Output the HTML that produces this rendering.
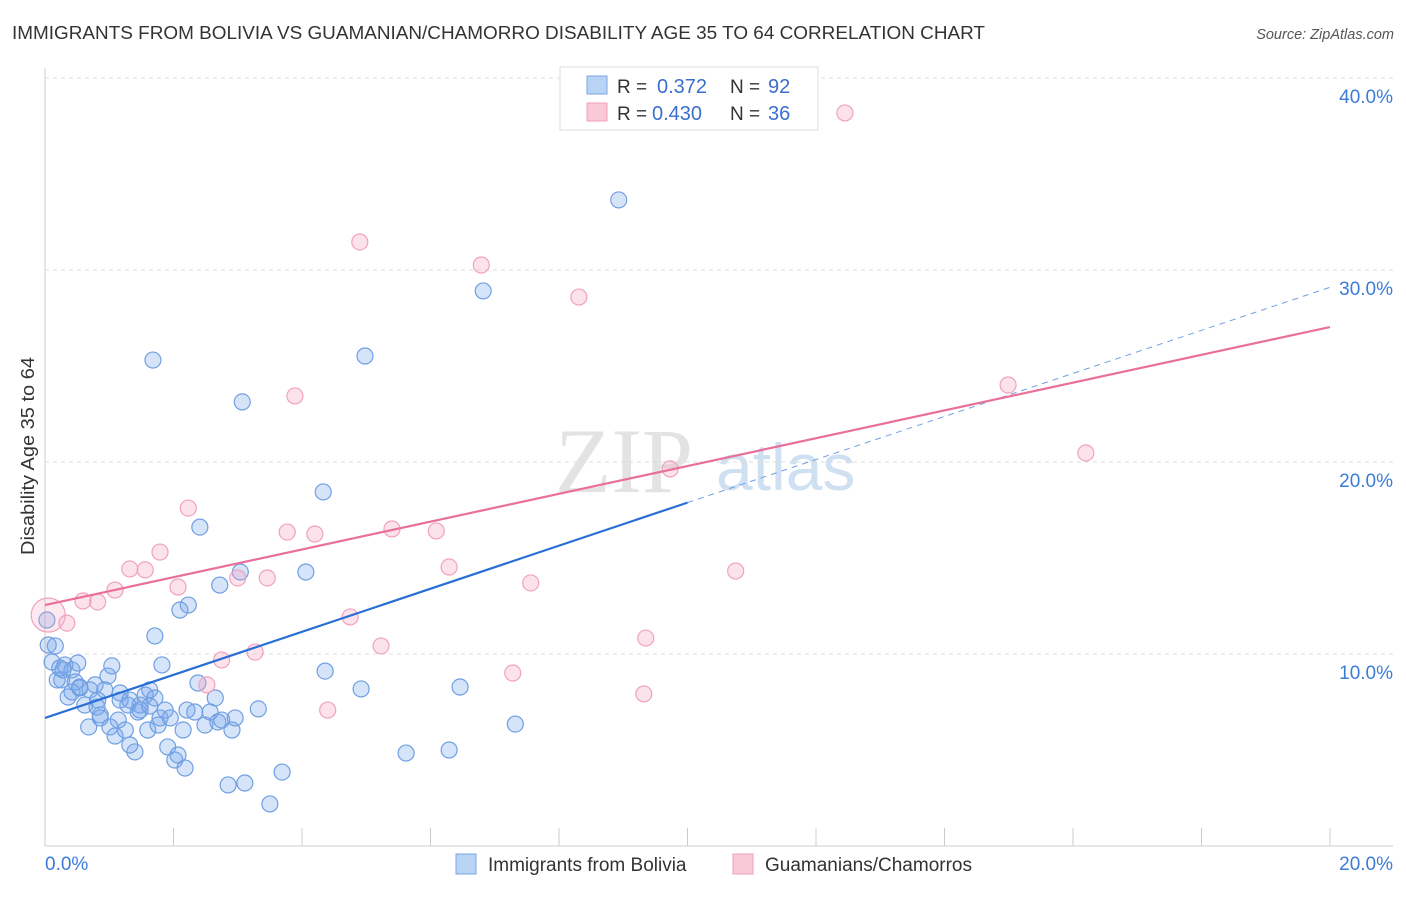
<!DOCTYPE html>
<html><head><meta charset="utf-8"><style>
body{margin:0;background:#fff;font-family:"Liberation Sans",sans-serif}
</style></head><body>
<svg id="chart" width="1406" height="892" xmlns="http://www.w3.org/2000/svg" font-family="Liberation Sans, sans-serif">
<text x="12" y="39" font-size="18" fill="#333" textLength="973" lengthAdjust="spacingAndGlyphs">IMMIGRANTS FROM BOLIVIA VS GUAMANIAN/CHAMORRO DISABILITY AGE 35 TO 64 CORRELATION CHART</text>
<text x="1394" y="39" font-size="14.5" fill="#555" text-anchor="end" font-style="italic">Source: ZipAtlas.com</text>
<g>
<text x="555" y="492" font-size="92" font-family="Liberation Serif, serif" fill="#ddd" opacity="0.8">ZIP</text>
<text x="716" y="490" font-size="66" fill="#bcd3ee" opacity="0.7">atlas</text>
</g>
<g id="grid"></g>
<g id="axes"></g>
<g id="pts"></g>
<g id="trend"></g>
<text x="34" y="456" font-size="18" fill="#333" text-anchor="middle" textLength="198" lengthAdjust="spacingAndGlyphs" transform="rotate(-90 34 456)">Disability Age 35 to 64</text>
<g>
<rect x="560" y="67" width="258" height="63" fill="#fff" stroke="#ddd"/>
<rect x="587" y="76" width="20" height="18" fill="#b9d3f4" stroke="#7aa6e4"/>
<rect x="587" y="103" width="20" height="18" fill="#f9c9d8" stroke="#efa0ba"/>
<text x="617" y="93" font-size="19" fill="#333">R = </text>
<text x="657" y="93" font-size="20" fill="#3b6fcf">0.372</text>
<text x="730" y="93" font-size="19" fill="#333">N = </text>
<text x="768" y="93" font-size="20" fill="#3b6fcf">92</text>
<text x="617" y="120" font-size="19" fill="#333">R = </text>
<text x="652" y="120" font-size="20" fill="#3b6fcf">0.430</text>
<text x="730" y="120" font-size="19" fill="#333">N = </text>
<text x="768" y="120" font-size="20" fill="#3b6fcf">36</text>
</g>
<g>
<rect x="456" y="854" width="20" height="20" fill="#b9d3f4" stroke="#7aa6e4"/>
<text x="488" y="871" font-size="19" fill="#333">Immigrants from Bolivia</text>
<rect x="733" y="854" width="20" height="20" fill="#f9c9d8" stroke="#efa0ba"/>
<text x="765" y="871" font-size="19" fill="#333">Guamanians/Chamorros</text>
</g>
</svg>
<script>
const xTickLabels=["0.0%","20.0%"];
const yTicks=[10,20,30,40];
const yTickLabels=["10.0%","20.0%","30.0%","40.0%"];
const blueX=[0.05,0.16,0.11,0.23,0.31,0.42,0.51,0.26,0.36,0.42,0.47,0.54,0.62,0.70,0.78,0.82,0.86,0.93,0.98,1.04,1.09,1.14,1.17,1.25,1.29,1.32,1.40,1.45,1.48,1.56,1.60,1.63,1.71,1.76,1.79,1.82,1.87,1.91,1.95,2.02,2.07,2.15,2.18,2.21,2.23,2.10,1.71,1.68,2.33,2.38,2.41,2.49,2.57,2.65,2.69,2.72,2.75,2.85,2.91,2.96,3.04,3.07,3.11,3.32,3.50,3.69,4.06,4.33,4.36,4.92,4.98,5.62,6.29,6.46,6.82,7.32,8.93,0.81,1.01,1.17,1.48,0.68,0.19,0.28,0.86,1.32,1.63,0.54,0.03];
const blueY=[10.47,10.42,9.58,9.27,9.43,9.17,9.53,8.65,7.76,8.02,8.54,8.23,7.34,8.13,8.39,7.60,6.82,8.13,8.85,9.38,5.73,6.56,7.60,6.04,7.34,7.60,4.90,6.98,7.34,7.86,6.04,8.13,7.71,6.30,6.67,9.43,7.08,5.16,6.67,4.48,4.74,6.04,4.06,7.08,12.55,12.29,10.94,25.31,6.98,8.49,16.61,6.30,6.98,7.71,6.46,13.59,6.56,3.18,6.04,6.67,14.27,23.13,3.28,7.14,2.19,3.85,14.27,18.44,9.11,8.18,25.52,4.84,5.00,8.28,28.91,6.35,33.65,7.24,6.20,7.97,7.08,6.20,8.65,9.17,6.67,5.26,7.29,8.28,11.77];
const pinkX=[0.05,0.34,0.59,0.82,1.09,1.32,1.56,1.79,2.07,2.23,2.75,2.52,3.00,3.27,3.46,3.77,3.89,4.20,4.40,4.75,4.90,5.23,5.40,6.09,6.29,6.79,7.28,7.56,8.31,9.32,9.35,9.73,10.75,12.45,14.99,16.20];
const pinkY=[12.03,11.61,12.76,12.71,13.33,14.43,14.38,15.31,13.49,17.60,9.69,8.39,13.96,10.10,13.96,16.35,23.44,16.25,7.08,11.93,31.46,10.42,16.51,16.41,14.53,30.26,9.01,13.70,28.59,7.92,10.83,19.64,14.32,38.18,24.01,20.47];
const blueTrend=[6.67,29.1];
const blueSolidEnd=10;
const pinkTrend=[12.55,27.03];
const NS="http://www.w3.org/2000/svg";
const X=v=>45+v*64.25, Y=v=>846-v*19.2;
function mk(t,a,p){const e=document.createElementNS(NS,t);for(const k in a)e.setAttribute(k,a[k]);p.appendChild(e);return e;}
const grid=document.getElementById('grid'),axes=document.getElementById('axes'),pts=document.getElementById('pts'),tr=document.getElementById('trend');
yTicks.forEach((t,i)=>{
 const l=mk('line',{x1:45,x2:1393,y1:Y(t),y2:Y(t),stroke:'#ddd','stroke-dasharray':'4,4'},grid);
 
 
 const tx=mk('text',{x:1393,y:Y(t)+25,'font-size':19,fill:'#3d7bd9','text-anchor':'end'},axes);
 tx.textContent=yTickLabels[i];
 
 
});
mk('line',{x1:45,x2:45,y1:68,y2:846,stroke:'#ccc'},axes);
mk('line',{x1:45,x2:1393,y1:846,y2:846,stroke:'#ccc'},axes);
for(let i=0;i<=10;i++){const t=mk('line',{x1:X(i*2),x2:X(i*2),y1:828,y2:846,stroke:'#ccc'},axes);
 
 }
[[0,'start',45],[20,'end',1393]].forEach((d,i)=>{const tx=mk('text',{x:d[2],y:870,'font-size':19,fill:'#3d7bd9','text-anchor':d[1]},axes);tx.textContent=xTickLabels[i];
 
 });
blueX.forEach((v,i)=>{const c=mk('circle',{cx:X(v),cy:Y(blueY[i]),r:8,fill:'rgba(120,165,235,0.3)',stroke:'#6f9fe2','stroke-width':1.2},pts);
 
 });
pinkX.forEach((v,i)=>{const c=mk('circle',{cx:X(v),cy:Y(pinkY[i]),r:i===0?17:8,fill:i===0?'rgba(245,160,190,0.22)':'rgba(245,160,190,0.3)',stroke:'#f0a2bd','stroke-width':1.2},pts);
 
 });
const bAt=x=>blueTrend[0]+(blueTrend[1]-blueTrend[0])*x/20;
let l=mk('line',{x1:X(0),y1:Y(bAt(0)),x2:X(blueSolidEnd),y2:Y(bAt(blueSolidEnd)),stroke:'#2a6fd6','stroke-width':2.2},tr);


l=mk('line',{x1:X(blueSolidEnd),y1:Y(bAt(blueSolidEnd)),x2:X(20),y2:Y(bAt(20)),stroke:'#6f9fe2','stroke-width':1,'stroke-dasharray':'6,5'},tr);


l=mk('line',{x1:X(0),y1:Y(pinkTrend[0]),x2:X(20),y2:Y(pinkTrend[1]),stroke:'#e8709a','stroke-width':2.2},tr);


</script>
</body></html>
